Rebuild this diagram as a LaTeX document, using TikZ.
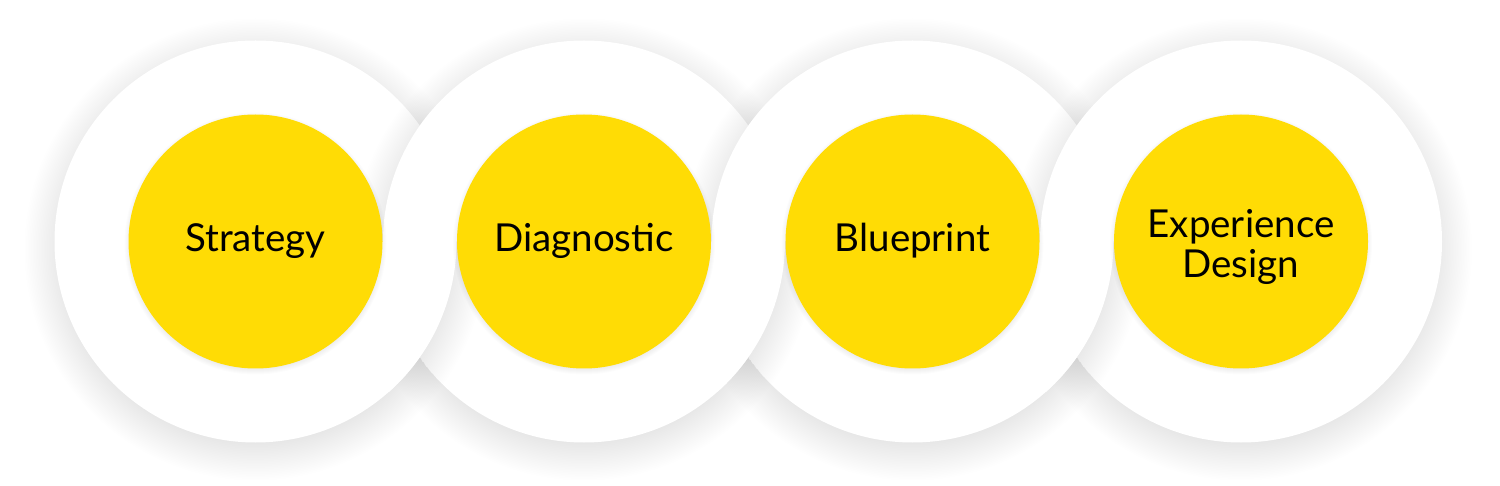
\documentclass[tikz,border=0pt]{standalone}
\usepackage{fontspec}
\setmainfont{Lato}
\definecolor{ringyellow}{HTML}{FFDC05}
\tikzset{
  outer/.style={circle, fill=white, minimum size=402pt, inner sep=0pt},
  inner/.style={circle, fill=ringyellow, minimum size=254pt, inner sep=0pt},
  lbl/.style={font=\fontsize{38.5}{40}\selectfont, text=black, align=center, inner sep=0pt},
}
\newcommand\ringshadow[1]{%
  \foreach \k in {0,...,24}{\fill[black,opacity=0.004] ([yshift=-8pt]#1) circle ({231pt-\k*1.6pt});}}
\newcommand\discshadow[1]{%
  \foreach \k in {0,...,5}{\fill[black,opacity=0.012] ([yshift=-2pt]#1) circle ({126pt+\k*1pt});}}
\begin{document}
\begin{tikzpicture}[x=1pt,y=-1pt]
\fill[white] (0,0) rectangle (1500,486);
\useasboundingbox (0,0) rectangle (1500,486);
\coordinate (c1) at (255.5,241.5);
\coordinate (c2) at (584,241.5);
\coordinate (c3) at (912.5,241.5);
\coordinate (c4) at (1241,241.5);
% outer rings, left to right
\foreach \i in {1,...,4}{
  \ringshadow{c\i}
  \node[outer] (o\i) at (c\i) {};
}
% interlock: lower half of each ring lies over the next one
\foreach \i/\j in {1/2,2/3,3/4}{
  \begin{scope}
    \clip (0,241.5) rectangle (1500,486);
    \clip (c\j) circle (201pt);
    \ringshadow{c\i}
  \end{scope}
  \begin{scope}
    \clip (0,241.5) rectangle (1500,486);
    \clip (c\j) circle (246pt);
    \fill[white] (o\i.center) circle (201pt);
  \end{scope}
}
% yellow discs
\foreach \i in {1,...,4}{
  \discshadow{c\i}
  \node[inner] (y\i) at (c\i) {};
}
\node[lbl, anchor=base] (t1) at ([yshift=-10.5pt]y1.center) {Strategy};
\node[lbl, anchor=base] (t2) at ([yshift=-10.5pt]y2.center) {Diagnostic};
\node[lbl, anchor=base] (t3) at ([yshift=-10.5pt]y3.center) {Blueprint};
\node[lbl] (t4) at ([yshift=-5.25pt]y4.center) {Experience\\Design};
\end{tikzpicture}
\end{document}
